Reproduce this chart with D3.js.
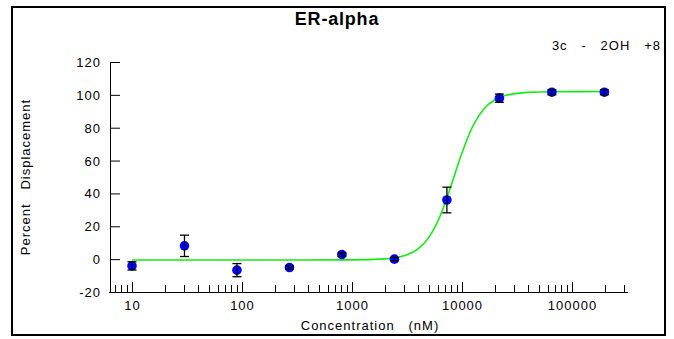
<!DOCTYPE html>
<html><head><meta charset="utf-8">
<script src="https://cdn.jsdelivr.net/npm/d3@7"></script>
<style>
html,body{margin:0;padding:0;background:#fff;}
svg text{font-family:"Liberation Sans",Arial,sans-serif;white-space:pre;}
</style></head>
<body><svg id="chart" width="674" height="339"></svg>
<script>
// ---- data ----
const concentrations = [10, 30, 90, 270, 810, 2430, 7290, 21870, 65610, 196830];
const displacement   = [-4.1, 8.1, -6.7, -5.1, 2.8, 0.0, 36.0, 98.0, 101.6, 101.6];
const errors         = [2.5, 6.5, 4.0, 1.0, 1.0, 1.0, 7.8, 2.5, 1.5, 1.5];
const curveConc = [10, 100, 1000, 1995, 3162, 3981, 5012, 6310, 7943, 10000, 12589, 15849, 19953, 25119, 39811, 63096, 196830];
const curveVal  = [-0.5, -0.5, -0.44, 0.14, 2.6, 6.2, 13.4, 26.1, 44.6, 64.8, 81.2, 91.6, 97.0, 99.7, 101.5, 101.9, 102.0];
const yTicks = [-20, 0, 20, 40, 60, 80, 100, 120];
const xTicks = [10, 100, 1000, 10000, 100000];
const title = "ER-alpha";
const subtitle = "3c   -   2OH   +8";
const xLabel = "Concentration   (nM)";
const yLabel = "Percent   Displacement";

const svg = d3.select("#chart");
const x0 = d3.scaleLog().domain([10, 100000]).range([132, 572]);
const x = d3.scaleLog().domain([x0.invert(109), x0.invert(628)]).range([109, 628]);
const y = d3.scaleLinear().domain([-20, 120]).range([292, 62]);

// frame
svg.append("rect").attr("x", 12).attr("y", 7).attr("width", 653).attr("height", 328)
  .attr("fill", "none").attr("stroke", "#000").attr("stroke-width", 2);

// title
svg.append("text").attr("x", 337).attr("y", 25).attr("text-anchor", "middle")
  .attr("font-size", 18).attr("font-weight", "bold").attr("letter-spacing", 0.8).text(title);
svg.append("text").attr("x", 661).attr("y", 50).attr("text-anchor", "end")
  .attr("font-size", 13).attr("letter-spacing", 1).text(subtitle);

// y axis
const yAxis = d3.axisRight(y).tickValues(yTicks).tickSize(10).tickFormat("");
const gy = svg.append("g").attr("transform", "translate(110,0)").call(yAxis);
gy.select(".domain").attr("d", `M0.5,${y(120)}V${y(-20)}`);
gy.selectAll("line").attr("stroke", "#000");
svg.append("g").selectAll("text").data(yTicks).join("text")
  .attr("x", 101).attr("y", d => y(d) + 5).attr("text-anchor", "end")
  .attr("font-size", 13).attr("letter-spacing", 1).text(d => d);

// x axis
const minor = [];
for (let e = 0; e <= 5; e++) for (let m = 1; m <= 9; m++) {
  const v = m * Math.pow(10, e);
  if (v >= x.domain()[0] && v <= x.domain()[1] && m !== 1) minor.push(v);
}
const gx = svg.append("g").attr("transform", "translate(0,292)");
gx.call(d3.axisTop(x).tickValues(xTicks).tickSize(10).tickFormat(""));
gx.select(".domain").attr("d", `M${x.range()[0]},0.5H${x.range()[1]}`);
gx.selectAll(".minor").data(minor).join("line").attr("class", "minor")
  .attr("x1", d => Math.round(x(d)) + 0.5).attr("x2", d => Math.round(x(d)) + 0.5)
  .attr("y1", 0).attr("y2", -7).attr("stroke", "#000");
svg.append("g").selectAll("text").data(xTicks).join("text")
  .attr("x", d => x(d) + 0.5).attr("y", 309.5).attr("text-anchor", "middle")
  .attr("font-size", 13).attr("letter-spacing", 1).text(d => d);

svg.append("text").attr("x", 370).attr("y", 330).attr("text-anchor", "middle")
  .attr("font-size", 13).attr("letter-spacing", 1).text(xLabel);
svg.append("text").attr("transform", "translate(30,177) rotate(-90)")
  .attr("text-anchor", "middle").attr("font-size", 13).attr("letter-spacing", 1).text(yLabel);

// fitted curve
const curvePts = curveConc.map((c, i) => [c, curveVal[i]]);
svg.append("path").datum(curvePts)
  .attr("d", d3.line().x(d => x(d[0])).y(d => y(d[1])).curve(d3.curveMonotoneX))
  .attr("fill", "none").attr("stroke", "#11ee11").attr("stroke-width", 1.6);

// points
const pts = concentrations.map((c, i) => ({c, v: displacement[i], e: errors[i]}));
svg.append("g").selectAll("circle").data(pts).join("circle")
  .attr("cx", d => x(d.c)).attr("cy", d => y(d.v)).attr("r", 4.8).attr("fill", "#0000ff");
const eb = svg.append("g").attr("stroke", "#000").attr("stroke-width", 1.3);
pts.forEach(d => {
  const cx = x(d.c), t = y(d.v + d.e), b = y(d.v - d.e);
  eb.append("line").attr("x1", cx).attr("x2", cx).attr("y1", t).attr("y2", b);
  eb.append("line").attr("x1", cx - 4.5).attr("x2", cx + 4.5).attr("y1", t).attr("y2", t);
  eb.append("line").attr("x1", cx - 4.5).attr("x2", cx + 4.5).attr("y1", b).attr("y2", b);
});
</script></body></html>
